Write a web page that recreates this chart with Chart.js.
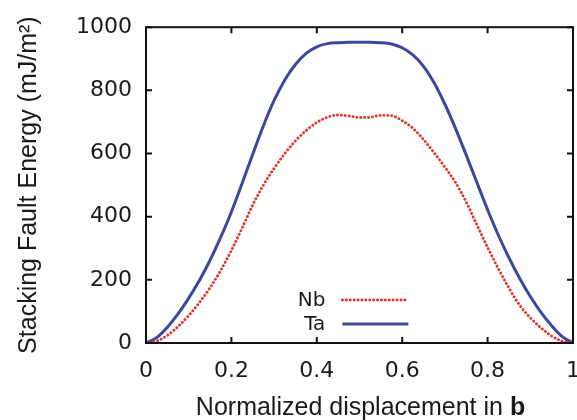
<!DOCTYPE html>
<html>
<head>
<meta charset="utf-8">
<script src="https://cdn.jsdelivr.net/npm/chart.js@4/dist/chart.umd.min.js"></script>
<style>
  html, body { margin: 0; padding: 0; background: #ffffff; }
  #wrap { width: 577px; height: 420px; position: relative; }
</style>
</head>
<body>
<div id="wrap"><canvas id="c" width="577" height="420"></canvas></div>
<script>
// Normalized displacement (x values)
const displacement = [0, 0.025, 0.05, 0.075, 0.1, 0.125, 0.15, 0.175, 0.2, 0.225, 0.25, 0.275, 0.3, 0.325, 0.35, 0.375, 0.4, 0.425, 0.45, 0.475, 0.5,
                      0.525, 0.55, 0.575, 0.6, 0.625, 0.65, 0.675, 0.7, 0.725, 0.75, 0.775, 0.8, 0.825, 0.85, 0.875, 0.9, 0.925, 0.95, 0.975, 1.0];
// Stacking fault energy (mJ/m^2)
const nbEnergy = [0, 6, 24, 52, 87, 128, 175, 230, 293, 364, 437, 500, 553, 600, 640, 673, 698, 715, 722, 719, 714,
                  715, 721, 720, 704, 680, 644, 602, 557, 508, 446, 374, 303, 236, 174, 120, 80, 48, 22, 6, 0];
const taEnergy = [0, 17, 50, 92, 142, 198, 262, 335, 415, 505, 598, 688, 768, 833, 882, 917, 938, 948, 951, 952, 952,
                  952, 951, 947, 935, 912, 876, 823, 756, 679, 595, 508, 422, 342, 270, 205, 147, 97, 55, 20, 0];
const seriesNames = ['Nb', 'Ta'];
const xTicks = [0, 0.2, 0.4, 0.6, 0.8, 1];
const yTicks = [0, 200, 400, 600, 800, 1000];
const yTitle = 'Stacking Fault Energy (mJ/m\u00B2)';
const xTitleMain = 'Normalized displacement in ';
const xTitleBold = 'b';

const TITLE_FONT = "'Liberation Sans', Arial, Helvetica, sans-serif";
const TICK_FONT = "'DejaVu Sans', 'Liberation Sans', sans-serif";
const TEXT = '#1a1a1a';
const RED = '#e3352b';
const BLUE = '#3c479f';

const toPts = (ys) => displacement.map((x, i) => ({ x: x, y: ys[i] }));

const framePlugin = {
  id: 'frame',
  afterDatasetsDraw(chart) {
    const { ctx, chartArea: a, scales } = chart;
    ctx.save();
    ctx.strokeStyle = '#111';
    ctx.lineWidth = 2;
    ctx.strokeRect(a.left, a.top, a.right - a.left, a.bottom - a.top);
    const tl = 6;
    ctx.beginPath();
    xTicks.forEach(v => {
      const px = scales.x.getPixelForValue(v);
      ctx.moveTo(px, a.bottom); ctx.lineTo(px, a.bottom - tl);
      ctx.moveTo(px, a.top); ctx.lineTo(px, a.top + tl);
    });
    yTicks.forEach(v => {
      const py = scales.y.getPixelForValue(v);
      ctx.moveTo(a.left, py); ctx.lineTo(a.left + tl, py);
      ctx.moveTo(a.right, py); ctx.lineTo(a.right - tl, py);
    });
    ctx.stroke();
    ctx.restore();
  },
  afterDraw(chart) {
    const { ctx, chartArea: a, scales } = chart;
    ctx.save();
    // legend
    const lx = scales.x.getPixelForValue(0.42);
    const ys = [a.bottom - 43, a.bottom - 19];
    ctx.font = '20px ' + TICK_FONT;
    ctx.fillStyle = TEXT;
    ctx.textAlign = 'right';
    ctx.textBaseline = 'middle';
    chart.data.datasets.forEach((ds, i) => {
      ctx.fillText(ds.label, lx, ys[i] + 1);
      ctx.beginPath();
      ctx.strokeStyle = ds.borderColor;
      ctx.lineWidth = ds.borderWidth;
      ctx.lineCap = ds.borderCapStyle || 'butt';
      ctx.setLineDash(ds.borderDash || []);
      ctx.moveTo(lx + 17, ys[i]);
      ctx.lineTo(lx + 83, ys[i]);
      ctx.stroke();
      ctx.setLineDash([]);
    });
    // x title with bold b
    ctx.textBaseline = 'alphabetic';
    ctx.textAlign = 'left';
    const fN = '25px ' + TITLE_FONT, fB = 'bold 25px ' + TITLE_FONT;
    ctx.font = fN; const w1 = ctx.measureText(xTitleMain).width;
    ctx.font = fB; const w2 = ctx.measureText(xTitleBold).width;
    const cx = (a.left + a.right) / 2 + 1;
    const x0 = cx - (w1 + w2) / 2;
    const by = 415;
    ctx.font = fN; ctx.fillText(xTitleMain, x0, by);
    ctx.font = fB; ctx.fillText(xTitleBold, x0 + w1, by);
    ctx.restore();
  }
};

new Chart(document.getElementById('c'), {
  type: 'line',
  data: {
    datasets: [
      {
        label: seriesNames[0],
        data: toPts(nbEnergy),
        borderColor: RED,
        borderWidth: 2.8,
        borderDash: [0.2, 3.7],
        borderCapStyle: 'round',
        pointRadius: 0,
        cubicInterpolationMode: 'monotone',
        fill: false
      },
      {
        label: seriesNames[1],
        data: toPts(taEnergy),
        borderColor: BLUE,
        borderWidth: 3,
        pointRadius: 0,
        cubicInterpolationMode: 'monotone',
        fill: false
      }
    ]
  },
  options: {
    responsive: false,
    animation: false,
    events: [],
    layout: { padding: { top: 27, right: 4, bottom: 0, left: 0 } },
    plugins: { legend: { display: false }, tooltip: { enabled: false } },
    scales: {
      x: {
        type: 'linear',
        min: 0, max: 1,
        afterBuildTicks: (s) => { s.ticks = xTicks.map(v => ({ value: v })); },
        afterFit: (s) => { s.height = 77; s.paddingLeft = 0; s.paddingRight = 0; },
        grid: { display: false, drawTicks: false },
        border: { display: false },
        ticks: {
          padding: 15,
          color: TEXT,
          font: { family: TICK_FONT, size: 22 },
          maxRotation: 0,
          autoSkip: false,
          callback: (v) => String(Math.round(v * 10) / 10)
        }
      },
      y: {
        min: 0, max: 1000,
        afterBuildTicks: (s) => { s.ticks = yTicks.map(v => ({ value: v })); },
        afterFit: (s) => { s.width = 146; },
        grid: { display: false, drawTicks: false },
        border: { display: false },
        ticks: {
          padding: 14,
          color: TEXT,
          font: { family: TICK_FONT, size: 22 },
          callback: (v) => String(v)
        },
        title: {
          display: true,
          text: yTitle,
          color: TEXT,
          font: { family: TITLE_FONT, size: 25 },
          padding: { top: 14, bottom: 0 }
        }
      }
    }
  },
  plugins: [framePlugin]
});
</script>
</body>
</html>
